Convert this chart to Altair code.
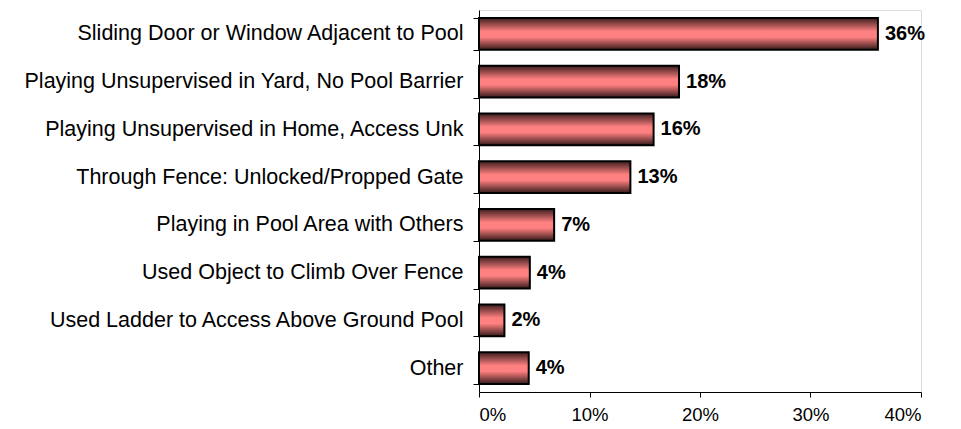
import altair as alt
import pandas as pd

categories = [
    "Sliding Door or Window Adjacent to Pool",
    "Playing Unsupervised in Yard, No Pool Barrier",
    "Playing Unsupervised in Home, Access Unk",
    "Through Fence: Unlocked/Propped Gate",
    "Playing in Pool Area with Others",
    "Used Object to Climb Over Fence",
    "Used Ladder to Access Above Ground Pool",
    "Other",
]
shares = [0.361, 0.181, 0.158, 0.137, 0.068, 0.046, 0.023, 0.045]
share_labels = ["36%", "18%", "16%", "13%", "7%", "4%", "2%", "4%"]
x_ticks = [0, 0.1, 0.2, 0.3, 0.4]

df = pd.DataFrame({"cause": categories, "share": shares, "label": share_labels})

y_enc = alt.Y(
    "cause:N",
    sort=categories,
    title=None,
    scale=alt.Scale(paddingInner=0.33, paddingOuter=0.165),
    axis=alt.Axis(
        tickBand="extent",
        tickSize=6,
        tickColor="black",
        domainColor="black",
        labelFont="Liberation Sans",
        labelFontSize=21.5,
        labelColor="black",
        labelPadding=10,
        labelLimit=600,
    ),
)
x_enc = alt.X(
    "share:Q",
    title=None,
    scale=alt.Scale(domain=[0, 0.4], nice=False),
    axis=alt.Axis(
        values=x_ticks,
        format=".0%",
        grid=False,
        tickSize=5,
        tickColor="black",
        domainColor="black",
        labelFont="Liberation Sans",
        labelFontSize=18.5,
        labelColor="black",
        labelPadding=8,
    ),
)

grad = alt.Gradient(
    gradient="linear",
    x1=0, x2=0, y1=0, y2=1,
    stops=[
        alt.GradientStop(color="#3a1c1c", offset=0),
        alt.GradientStop(color="#ff8080", offset=0.42),
        alt.GradientStop(color="#ff8080", offset=0.6),
        alt.GradientStop(color="#331919", offset=1),
    ],
)

bars = alt.Chart(df).mark_bar(
    fill=grad, stroke="black", strokeWidth=2, cornerRadius=0
).encode(x=x_enc, y=y_enc)

texts = alt.Chart(df).mark_text(
    align="left", baseline="middle", dx=7,
    font="Liberation Sans", fontSize=20, fontWeight="bold", color="black"
).encode(x="share:Q", y=alt.Y("cause:N", sort=categories), text="label:N")

chart = alt.layer(bars, texts).properties(
    width=442,
    height=382,
    autosize=alt.AutoSizeParams(type="none"),
    padding={"left": 471, "top": 2, "right": 30, "bottom": 35},
).configure_view(stroke=None).configure(background="white")

chart.save("out.html", embed_options={"renderer": "svg", "actions": False})
